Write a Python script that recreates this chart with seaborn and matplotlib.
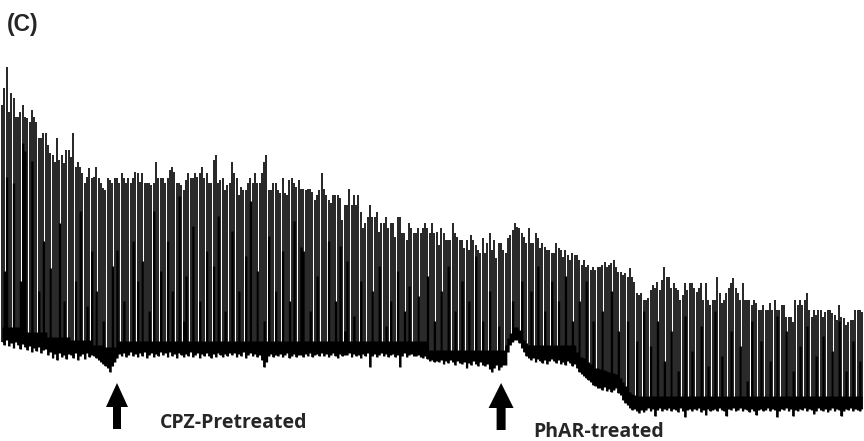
import numpy as np
import pandas as pd
import matplotlib
matplotlib.use("Agg")
import matplotlib.pyplot as plt
from matplotlib.patches import Polygon
import seaborn as sns

# Peak tension of each twitch (arbitrary recorder units)
peaks = [
    336, 353, 374, 329, 348, 343, 324, 324, 329, 336,
    324, 323, 319, 331, 324, 319, 303, 303, 308, 308,
    296, 288, 286, 279, 303, 281, 286, 278, 291, 291,
    284, 308, 274, 279, 274, 268, 258, 264, 273, 263,
    264, 274, 263, 258, 253, 251, 263, 261, 258, 263,
    263, 258, 268, 263, 258, 263, 258, 263, 269, 268,
    259, 268, 258, 258, 258, 256, 258, 279, 263, 263,
    263, 258, 263, 271, 274, 269, 258, 258, 256, 251,
    261, 268, 263, 263, 268, 264, 268, 274, 263, 268,
    258, 258, 281, 286, 258, 261, 263, 251, 256, 258,
    279, 268, 263, 246, 254, 251, 251, 258, 263, 258,
    268, 258, 258, 268, 279, 286, 251, 251, 258, 258,
    251, 248, 263, 248, 246, 261, 263, 258, 254, 261,
    252, 252, 251, 252, 252, 249, 241, 246, 251, 268,
    252, 246, 241, 238, 246, 246, 246, 243, 221, 236,
    236, 252, 236, 246, 236, 246, 229, 213, 218, 224,
    236, 224, 224, 229, 209, 218, 218, 224, 213, 218,
    218, 204, 224, 224, 208, 208, 201, 218, 213, 208,
    208, 213, 208, 213, 218, 213, 208, 218, 208, 209,
    196, 213, 208, 201, 201, 201, 218, 208, 204, 201,
    201, 193, 201, 191, 206, 201, 196, 191, 188, 203,
    188, 198, 208, 191, 201, 183, 198, 198, 191, 188,
    203, 206, 211, 218, 214, 213, 208, 204, 198, 213,
    198, 198, 208, 203, 193, 198, 194, 191, 191, 188,
    188, 198, 193, 191, 184, 191, 186, 181, 188, 186,
    186, 181, 176, 181, 174, 176, 171, 174, 171, 174,
    174, 176, 179, 174, 176, 178, 181, 174, 169, 169,
    166, 168, 164, 173, 164, 159, 148, 146, 148, 141,
    141, 143, 151, 156, 153, 159, 151, 161, 174, 164,
    164, 153, 158, 153, 151, 141, 146, 158, 151, 158,
    158, 153, 149, 153, 158, 141, 158, 141, 136, 141,
    141, 164, 148, 138, 141, 148, 153, 158, 163, 153,
    148, 141, 158, 141, 141, 141, 136, 141, 138, 131,
    131, 136, 131, 131, 138, 131, 141, 131, 131, 136,
    136, 124, 124, 124, 119, 141, 136, 141, 136, 141,
    148, 131, 124, 131, 126, 131, 131, 124, 129, 131,
    131, 128, 126, 121, 136, 124, 123, 116, 119, 121,
    121, 131, 131, 131, 129,
]

# Top of the solid (merged) black part of each twitch
solid = [
    114, 170, 264, 114, 114, 258, 114, 114, 160, 298,
    290, 109, 109, 280, 109, 109, 150, 109, 200, 109,
    104, 173, 104, 104, 104, 218, 104, 140, 104, 104,
    101, 101, 160, 101, 230, 101, 101, 135, 101, 190,
    96, 150, 96, 96, 120, 94, 94, 94, 175, 94,
    191, 100, 100, 140, 100, 100, 100, 200, 100, 160,
    100, 180, 100, 100, 130, 100, 230, 100, 100, 170,
    100, 100, 200, 100, 150, 100, 100, 245, 100, 120,
    165, 100, 100, 215, 100, 100, 140, 100, 100, 190,
    100, 100, 175, 100, 225, 100, 100, 130, 100, 100,
    210, 100, 100, 150, 100, 100, 185, 100, 240, 100,
    100, 170, 100, 100, 120, 100, 205, 100, 100, 150,
    100, 100, 190, 100, 100, 140, 100, 220, 100, 100,
    194, 190, 100, 100, 130, 100, 100, 165, 100, 100,
    100, 100, 200, 100, 100, 140, 100, 195, 100, 110,
    180, 100, 100, 125, 100, 100, 160, 100, 100, 100,
    100, 150, 100, 100, 175, 100, 100, 115, 100, 140,
    100, 100, 170, 100, 100, 130, 100, 155, 100, 100,
    100, 145, 100, 100, 100, 165, 91, 91, 120, 91,
    91, 150, 91, 91, 175, 91, 91, 130, 91, 91,
    160, 91, 91, 140, 91, 91, 185, 91, 91, 120,
    91, 91, 150, 91, 91, 91, 115, 91, 91, 96,
    103, 108, 140, 114, 114, 111, 160, 101, 98, 96,
    150, 96, 96, 175, 96, 96, 130, 96, 96, 160,
    96, 96, 140, 96, 96, 165, 96, 96, 120, 96,
    89, 140, 84, 83, 160, 79, 77, 120, 73, 73,
    72, 130, 71, 70, 69, 150, 68, 67, 110, 63,
    59, 55, 120, 49, 47, 46, 100, 45, 45, 130,
    45, 45, 95, 45, 45, 120, 45, 45, 80, 45,
    45, 110, 45, 45, 70, 45, 45, 125, 45, 45,
    90, 45, 45, 45, 115, 45, 45, 75, 45, 45,
    130, 45, 45, 85, 45, 45, 45, 110, 45, 45,
    45, 95, 45, 45, 60, 45, 120, 45, 45, 45,
    100, 45, 45, 45, 80, 45, 45, 125, 45, 45,
    45, 110, 45, 45, 70, 45, 45, 95, 45, 45,
    115, 45, 45, 45, 85, 45, 45, 105, 45, 45,
    45, 90, 45, 45, 120, 45, 45, 70, 45, 45,
    100, 45, 45, 80, 45,
]

# Lowest point of each twitch (baseline with undershoot)
bottom = [
    99, 96, 101, 95, 98, 93, 99, 96, 92, 97,
    94, 91, 95, 89, 93, 90, 94, 88, 91, 92,
    86, 89, 83, 87, 81, 88, 84, 86, 82, 87,
    86, 83, 88, 81, 85, 87, 82, 88, 84, 86,
    85, 83, 81, 79, 77, 75, 73, 69, 75, 79,
    83, 87, 85, 88, 84, 86, 89, 85, 87, 84,
    88, 85, 89, 83, 86, 88, 84, 87, 85, 89,
    86, 88, 84, 89, 85, 87, 83, 88, 86, 84,
    87, 85, 89, 84, 86, 88, 83, 87, 85, 88,
    85, 83, 87, 84, 88, 86, 84, 87, 85, 88,
    86, 88, 84, 87, 85, 89, 83, 86, 88, 85,
    87, 84, 86, 81, 74, 79, 85, 87, 84, 86,
    85, 87, 84, 86, 88, 83, 85, 87, 84, 86,
    86, 84, 87, 85, 88, 84, 86, 87, 85, 88,
    85, 87, 84, 86, 88, 85, 83, 87, 85, 86,
    86, 88, 84, 87, 85, 86, 83, 87, 85, 88,
    74, 85, 87, 84, 86, 88, 85, 87, 84, 86,
    87, 84, 86, 74, 85, 88, 84, 86, 87, 85,
    85, 86, 84, 83, 85, 82, 80, 81, 79, 80,
    79, 81, 77, 80, 78, 81, 79, 76, 80, 78,
    77, 79, 73, 78, 76, 80, 77, 75, 79, 76,
    75, 77, 72, 69, 73, 76, 71, 74, 76, 76,
    89, 96, 99, 101, 101, 98, 93, 89, 85, 83,
    81, 83, 79, 82, 80, 78, 81, 77, 80, 82,
    80, 78, 81, 77, 79, 76, 80, 78, 75, 77,
    73, 69, 67, 65, 63, 61, 59, 56, 55, 53,
    53, 51, 54, 50, 52, 49, 51, 53, 48, 46,
    41, 38, 36, 33, 31, 32, 30, 28, 31, 29,
    31, 33, 30, 32, 25, 31, 33, 30, 32, 31,
    33, 30, 32, 31, 29, 33, 30, 24, 31, 32,
    30, 32, 31, 33, 29, 31, 26, 32, 30, 31,
    32, 30, 33, 31, 30, 25, 32, 31, 33, 30,
    31, 33, 30, 32, 31, 29, 32, 30, 26, 31,
    32, 30, 31, 33, 30, 32, 31, 24, 30, 32,
    31, 33, 30, 32, 25, 31, 30, 32, 31, 33,
    30, 32, 31, 27, 30, 33, 31, 30, 32, 29,
    31, 33, 30, 32, 31, 25, 30, 32, 31, 33,
    30, 32, 31, 30, 32,
]

panel_label = "(C)"
event_labels = ["CPZ-Pretreated", "PhAR-treated"]
event_twitch = [50, 217]   # twitch index where each treatment was applied

twitch = np.arange(len(peaks))

sns.set_style("white")
fig = plt.figure(figsize=(8.64, 4.41), dpi=100)
ax = fig.add_axes([0, 0, 1, 1])

trace = pd.DataFrame({
    "twitch": np.repeat(twitch, 2),
    "force": np.column_stack([bottom, peaks]).ravel(),
})
sns.lineplot(data=trace, x="twitch", y="force", units="twitch", estimator=None,
             color="black", linewidth=1.2, ax=ax, legend=False,
             solid_capstyle="butt")
ax.fill_between(twitch, bottom, solid, step="mid", color="black", linewidth=0)

ax.set_xlim(-0.87, 374.8)
ax.set_ylim(0, 441)
ax.axis("off")

# overlay for annotations (pixel-like coordinates)
ov = fig.add_axes([0, 0, 1, 1])
ov.set_xlim(0, 864)
ov.set_ylim(441, 0)
ov.axis("off")
ov.patch.set_alpha(0)


def arrow(cx, tip, head_base, bot, hw, sw):
    pts = [(cx - sw / 2, bot), (cx - sw / 2, head_base), (cx - hw / 2, head_base),
           (cx, tip), (cx + hw / 2, head_base), (cx + sw / 2, head_base),
           (cx + sw / 2, bot)]
    ov.add_patch(Polygon(pts, closed=True, color="black", lw=0))


arrow(2 + 2.3 * event_twitch[0], 383, 407, 429, 22, 8)
arrow(2 + 2.3 * event_twitch[1], 383, 408, 430, 25, 9)

ov.text(7, 31.5, panel_label, fontsize=16.5, fontweight="bold",
        family=["Liberation Sans", "DejaVu Sans"], va="baseline", ha="left")
ov.text(160, 428, event_labels[0], fontsize=14, fontweight="bold",
        family=["Open Sans", "DejaVu Sans"], va="baseline", ha="left")
ov.text(533, 437, event_labels[1], fontsize=14, fontweight="bold",
        family=["Open Sans", "DejaVu Sans"], va="baseline", ha="left")

fig.savefig("out.png", dpi=100)
